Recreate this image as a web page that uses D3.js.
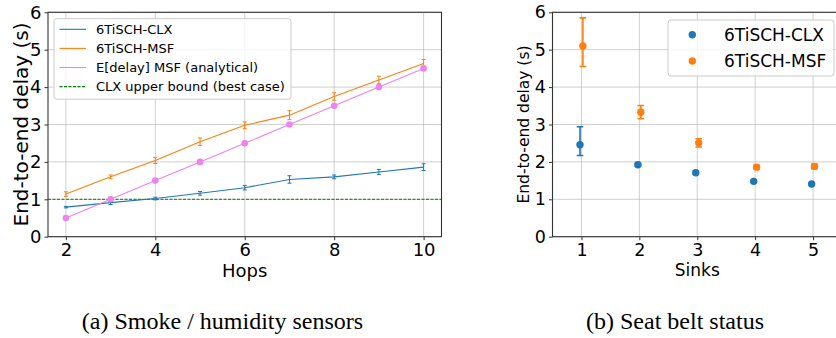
<!DOCTYPE html>
<html><head><meta charset="utf-8">
<script src="https://cdn.jsdelivr.net/npm/d3@7"></script>
<style>body{margin:0;background:#fff}svg{display:block}</style>
</head><body>
<svg id="c" width="836" height="338"></svg>
<script>
// ---- data: panel (a) ----
const hops = [2,3,4,5,6,7,8,9,10];
const clxA = [0.79,0.91,1.02,1.16,1.31,1.53,1.60,1.73,1.86];
const clxAErr = [0.02,0.05,0.035,0.05,0.06,0.10,0.05,0.07,0.09];
const msfA = [1.14,1.60,2.04,2.54,2.98,3.25,3.75,4.19,4.63];
const msfAErr = [0.06,0.05,0.08,0.10,0.09,0.12,0.10,0.10,0.11];
const analytical = [0.5,1.0,1.5,2.0,2.5,3.0,3.5,4.0,4.5];
const clxBound = 1.0;
const xTicksA = [2,4,6,8,10];
const yTicks = [0,1,2,3,4,5,6];
const legendA = ["6TiSCH-CLX","6TiSCH-MSF","E[delay] MSF (analytical)","CLX upper bound (best case)"];
// ---- data: panel (b) ----
const sinks = [1,2,3,4,5];
const clxB = [2.46,1.925,1.71,1.48,1.41];
const clxBLo = [2.17,1.885,1.67,1.45,1.39];
const clxBHi = [2.94,1.965,1.75,1.51,1.43];
const msfB = [5.10,3.33,2.51,1.86,1.88];
const msfBLo = [4.55,3.155,2.40,1.81,1.82];
const msfBHi = [5.85,3.51,2.62,1.91,1.94];
const legendB = ["6TiSCH-CLX","6TiSCH-MSF"];
const captions = ["(a) Smoke / humidity sensors","(b) Seat belt status"];

const BLUE="#1f77b4", ORANGE="#ff7f0e", VIOLET="#ee82ee", GREEN="#008000";
const FONT="DejaVu Sans, sans-serif";
const svg = d3.select("#c");

function frame(g, x, y, xt, yt){
  g.append("g").selectAll("line").data(xt).join("line")
    .attr("x1",d=>x(d)).attr("x2",d=>x(d)).attr("y1",y.range()[0]).attr("y2",y.range()[1])
    .attr("stroke","#b0b0b0").attr("stroke-opacity",0.6).attr("stroke-width",1);
  g.append("g").selectAll("line").data(yt).join("line")
    .attr("y1",d=>y(d)).attr("y2",d=>y(d)).attr("x1",x.range()[0]).attr("x2",x.range()[1])
    .attr("stroke","#b0b0b0").attr("stroke-opacity",0.6).attr("stroke-width",1);
}
function axes(g, x, y, xt, yt, fs){
  const xa = g.append("g").attr("transform",`translate(0,${y.range()[0]})`)
    .call(d3.axisBottom(x).tickValues(xt).tickSize(3.5).tickPadding(3).tickFormat(d3.format("d")));
  const ya = g.append("g").attr("transform",`translate(${x.range()[0]},0)`)
    .call(d3.axisLeft(y).tickValues(yt).tickSize(3.5).tickPadding(3).tickFormat(d3.format("d")));
  [xa,ya].forEach(a=>{
    a.select(".domain").remove();
    a.selectAll("line").attr("stroke","#333");
    a.selectAll("text").attr("font-family",FONT).attr("font-size",fs).attr("fill","#000");
  });
  const [x0,x1]=x.range(), [y0,y1]=y.range();
  g.append("rect").attr("x",x0).attr("y",y1).attr("width",x1-x0).attr("height",y0-y1)
    .attr("fill","none").attr("stroke","#333").attr("stroke-width",1.1);
}

// ---------- panel (a) ----------
const xA = d3.scaleLinear().domain([1.6,10.4]).range([48,441.5]);
const yA = d3.scaleLinear().domain([0,6]).range([236.7,12.3]);
const gA = svg.append("g");
frame(gA,xA,yA,xTicksA,yTicks);
const line = (xs,ys,sx,sy)=>d3.line().x((d,i)=>sx(xs[i])).y((d,i)=>sy(ys[i]))(ys);
gA.append("line").attr("x1",xA.range()[0]).attr("x2",xA.range()[1])
  .attr("y1",yA(clxBound)).attr("y2",yA(clxBound))
  .attr("stroke",GREEN).attr("stroke-width",1).attr("stroke-dasharray","3,1.5");
function errA(g,xs,ys,es,col,cap){
  g.append("g").selectAll("path").data(ys).join("path")
    .attr("d",(d,i)=>{const X=xA(xs[i]),a=yA(d-es[i]),b=yA(d+es[i]);
      return `M${X},${a}V${b}M${X-cap},${a}H${X+cap}M${X-cap},${b}H${X+cap}`;})
    .attr("stroke",col).attr("stroke-width",1).attr("fill","none");
}
gA.append("path").attr("d",line(hops,clxA,xA,yA)).attr("fill","none").attr("stroke",BLUE).attr("stroke-width",1.1);
errA(gA,hops,clxA,clxAErr,BLUE,2);
gA.append("path").attr("d",line(hops,msfA,xA,yA)).attr("fill","none").attr("stroke",ORANGE).attr("stroke-width",1.1);
errA(gA,hops,msfA,msfAErr,ORANGE,2);
gA.append("path").attr("d",line(hops,analytical,xA,yA)).attr("fill","none").attr("stroke",VIOLET).attr("stroke-width",1.1);
gA.append("g").selectAll("circle").data(analytical).join("circle")
  .attr("cx",(d,i)=>xA(hops[i])).attr("cy",d=>yA(d)).attr("r",3.3).attr("fill",VIOLET);
axes(gA,xA,yA,xTicksA,yTicks,18);
gA.append("text").attr("x",(xA.range()[0]+xA.range()[1])/2).attr("y",277)
  .attr("text-anchor","middle").attr("font-family",FONT).attr("font-size",18).text("Hops");
gA.append("text").attr("transform",`translate(28,${(yA.range()[0]+yA.range()[1])/2}) rotate(-90)`)
  .attr("text-anchor","middle").attr("font-family",FONT).attr("font-size",20).text("End-to-end delay (s)");
const lgA = gA.append("g");
lgA.append("rect").attr("x",54).attr("y",18.7).attr("width",237).attr("height",80.5).attr("rx",2.5)
  .attr("fill","#fff").attr("fill-opacity",0.8).attr("stroke","#ccc").attr("stroke-width",1);
const legColsA=[BLUE,ORANGE,VIOLET,GREEN];
legendA.forEach((t,i)=>{
  const yy=29.3+i*19.1;
  lgA.append("line").attr("x1",59.5).attr("x2",86).attr("y1",yy).attr("y2",yy)
    .attr("stroke",legColsA[i]).attr("stroke-width",1.1).attr("stroke-dasharray",i===3?"3,1.5":null);
  lgA.append("text").attr("x",96).attr("y",yy+4.7).attr("font-family",FONT).attr("font-size",13).text(t);
});

// ---------- panel (b) ----------
const xB = d3.scaleLinear().domain([0.5,5.5]).range([552.5,842]);
const yB = d3.scaleLinear().domain([0,6]).range([236.7,12.3]);
const gB = svg.append("g");
frame(gB,xB,yB,sinks,yTicks);
function seriesB(vals,lo,hi,dx,col){
  gB.append("g").selectAll("path").data(vals).join("path")
    .attr("d",(d,i)=>{const X=xB(sinks[i]+dx),a=yB(lo[i]),b=yB(hi[i]),c=3.3;
      return `M${X},${a}V${b}M${X-c},${a}H${X+c}M${X-c},${b}H${X+c}`;})
    .attr("stroke",col).attr("stroke-width",1.6).attr("fill","none");
  gB.append("g").selectAll("circle").data(vals).join("circle")
    .attr("cx",(d,i)=>xB(sinks[i]+dx)).attr("cy",d=>yB(d)).attr("r",3.7).attr("fill",col);
}
seriesB(clxB,clxBLo,clxBHi,-0.025,BLUE);
seriesB(msfB,msfBLo,msfBHi,0.025,ORANGE);
axes(gB,xB,yB,sinks,yTicks,17.5);
gB.append("text").attr("x",(xB.range()[0]+xB.range()[1])/2).attr("y",276)
  .attr("text-anchor","middle").attr("font-family",FONT).attr("font-size",17).text("Sinks");
gB.append("text").attr("transform",`translate(528.5,${(yB.range()[0]+yB.range()[1])/2}) rotate(-90)`)
  .attr("text-anchor","middle").attr("font-family",FONT).attr("font-size",15.5).text("End-to-end delay (s)");
const lgB = gB.append("g");
lgB.append("rect").attr("x",668).attr("y",20).attr("width",166).attr("height",56).attr("rx",3)
  .attr("fill","#fff").attr("fill-opacity",0.8).attr("stroke","#ccc").attr("stroke-width",1);
[BLUE,ORANGE].forEach((c,i)=>{
  const yy=34.7+i*26.3;
  lgB.append("circle").attr("cx",692.3).attr("cy",yy).attr("r",3.7).attr("fill",c);
  lgB.append("text").attr("x",724).attr("y",yy+6).attr("font-family",FONT).attr("font-size",17).text(legendB[i]);
});

svg.append("text").attr("x",222.5).attr("y",329).attr("text-anchor","middle")
  .attr("font-family","Liberation Serif, Times New Roman, serif").attr("font-size",24).text(captions[0]);
svg.append("text").attr("x",675).attr("y",329).attr("text-anchor","middle")
  .attr("font-family","Liberation Serif, Times New Roman, serif").attr("font-size",24).text(captions[1]);
</script>
</body></html>
